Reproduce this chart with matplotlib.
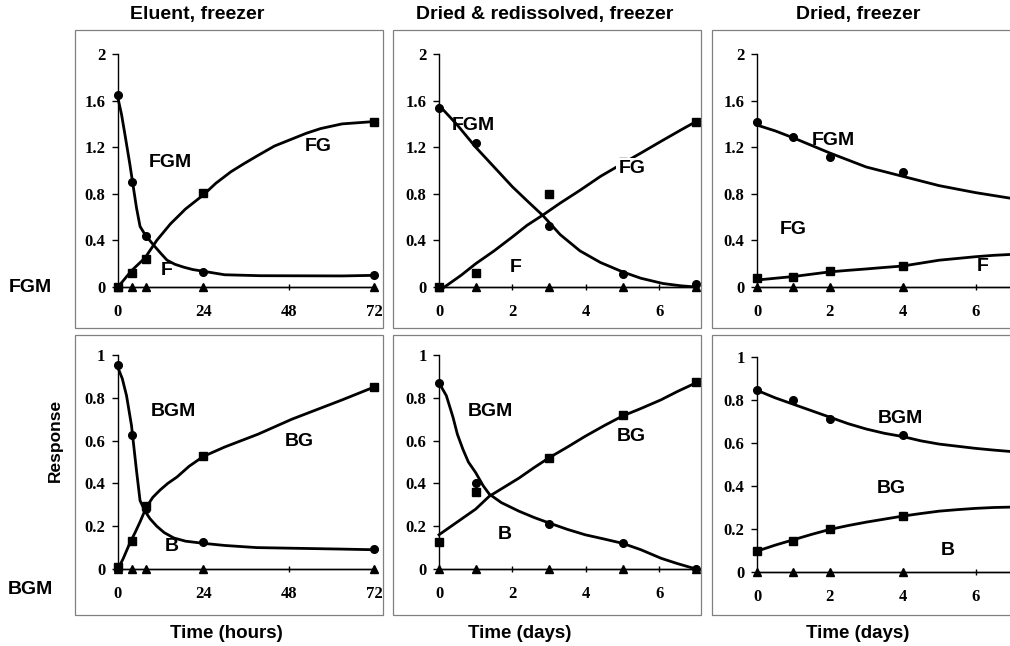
import matplotlib
matplotlib.use('Agg')
from matplotlib import pyplot as plt
from matplotlib.patches import Rectangle

# ---- data ----
# Eluent, freezer (hours)
t1 = [0, 4, 8, 24, 72]
fgm1 = [1.65, 0.90, 0.44, 0.13, 0.10]
fg1 = [0.0, 0.12, 0.24, 0.81, 1.42]
f1 = [0, 0, 0, 0, 0]
bgm1 = [0.955, 0.627, 0.28, 0.126, 0.093]
bg1 = [0.01, 0.13, 0.295, 0.53, 0.85]
b1 = [0, 0, 0, 0, 0]

fgm1_fit_t = [0, 1, 2, 3.3, 4.1, 5.2, 6.2, 7.6, 10, 12, 13.8, 16, 18.5, 21, 24, 30, 40, 63, 72]
fgm1_fit = [1.62, 1.48, 1.30, 1.06, 0.90, 0.68, 0.52, 0.45, 0.36, 0.29, 0.23, 0.195, 0.17, 0.15, 0.135, 0.105, 0.097, 0.095, 0.10]
fg1_fit_t = [0, 3.8, 7.6, 10.9, 14.7, 19, 24, 27.5, 31.8, 35.5, 39.4, 44, 48.9, 53, 57, 63, 72]
fg1_fit = [0.0, 0.14, 0.25, 0.40, 0.54, 0.67, 0.79, 0.89, 0.99, 1.06, 1.13, 1.21, 1.27, 1.32, 1.36, 1.40, 1.42]
bgm1_fit_t = [0, 1.2, 2.4, 3.8, 5.2, 6.2, 7.6, 9, 10.9, 13, 15.7, 19, 24, 30, 39, 63, 72]
bgm1_fit = [0.94, 0.89, 0.81, 0.67, 0.46, 0.32, 0.27, 0.235, 0.20, 0.17, 0.145, 0.13, 0.12, 0.11, 0.10, 0.093, 0.09]
bg1_fit_t = [0, 1.5, 3.3, 4.8, 6.2, 8, 9.8, 11.9, 14, 16.6, 20, 24, 30, 39.4, 48.9, 63, 72]
bg1_fit = [0.0, 0.05, 0.12, 0.17, 0.22, 0.29, 0.335, 0.37, 0.40, 0.43, 0.48, 0.526, 0.57, 0.63, 0.70, 0.79, 0.85]

# Dried & redissolved, freezer (days)
t2 = [0, 1, 3, 5, 7]
fgm2 = [1.54, 1.24, 0.52, 0.115, 0.03]
fg2 = [0.0, 0.12, 0.80, 1.07, 1.42]
f2 = [0, 0, 0, 0, 0]
bgm2 = [0.87, 0.40, 0.21, 0.12, 0.0]
bg2 = [0.125, 0.36, 0.52, 0.72, 0.875]
b2 = [0, 0, 0, 0, 0]

fgm2_fit_t = [0, 0.5, 1, 1.5, 2, 2.4, 2.84, 3.3, 3.84, 4.4, 5, 5.5, 6.1, 6.6, 7]
fgm2_fit = [1.56, 1.39, 1.20, 1.03, 0.86, 0.74, 0.61, 0.45, 0.31, 0.21, 0.13, 0.075, 0.03, 0.01, 0.0]
fg2_fit_t = [0.15, 0.6, 1, 1.5, 2, 2.4, 2.84, 3.3, 3.84, 4.4, 5, 5.5, 6.1, 6.6, 7]
fg2_fit = [0.0, 0.10, 0.20, 0.31, 0.43, 0.53, 0.62, 0.72, 0.83, 0.95, 1.06, 1.15, 1.26, 1.35, 1.42]
bgm2_fit_t = [0, 0.2, 0.38, 0.5, 0.65, 0.8, 1, 1.2, 1.37, 1.7, 2.18, 2.6, 3, 3.5, 3.98, 4.5, 5, 5.5, 6.05, 6.5, 7]
bgm2_fit = [0.87, 0.81, 0.71, 0.63, 0.56, 0.50, 0.45, 0.39, 0.35, 0.31, 0.27, 0.24, 0.215, 0.185, 0.16, 0.14, 0.12, 0.09, 0.05, 0.025, 0.0]
bg2_fit_t = [0, 0.5, 1, 1.37, 1.8, 2.18, 2.6, 3, 3.5, 3.98, 4.5, 5, 5.5, 6.04, 6.5, 7]
bg2_fit = [0.16, 0.22, 0.28, 0.34, 0.385, 0.425, 0.475, 0.52, 0.57, 0.62, 0.67, 0.715, 0.75, 0.79, 0.83, 0.87]

# Dried, freezer (days)
t3 = [0, 1, 2, 4]
fgm3 = [1.42, 1.29, 1.12, 0.99]
fg3 = [0.08, 0.09, 0.14, 0.18]
f3 = [0, 0, 0, 0]
bgm3 = [0.845, 0.80, 0.71, 0.635]
bg3 = [0.10, 0.143, 0.202, 0.26]
b3 = [0, 0, 0, 0]

fit3_t = [0, 0.5, 1, 1.5, 2, 2.5, 3, 3.5, 4, 4.5, 5, 5.5, 6, 6.5, 7]
fgm3_fit = [1.39, 1.34, 1.28, 1.215, 1.15, 1.09, 1.03, 0.99, 0.95, 0.91, 0.87, 0.84, 0.81, 0.785, 0.76]
fg3_fit = [0.06, 0.075, 0.09, 0.11, 0.13, 0.143, 0.155, 0.168, 0.18, 0.205, 0.23, 0.245, 0.26, 0.272, 0.28]
bgm3_fit = [0.845, 0.81, 0.78, 0.75, 0.72, 0.69, 0.665, 0.645, 0.63, 0.61, 0.595, 0.585, 0.575, 0.567, 0.56]
bg3_fit = [0.097, 0.125, 0.15, 0.175, 0.198, 0.216, 0.232, 0.246, 0.26, 0.272, 0.283, 0.29, 0.296, 0.3, 0.302]

titles = ['Eluent, freezer', 'Dried & redissolved, freezer', 'Dried, freezer']
xlabels = ['Time (hours)', 'Time (days)', 'Time (days)']

top_yticks = [0, 0.4, 0.8, 1.2, 1.6, 2]
top_ylabels = ['0', '0.4', '0.8', '1.2', '1.6', '2']
bot_yticks = [0, 0.2, 0.4, 0.6, 0.8, 1]
bot_ylabels = ['0', '0.2', '0.4', '0.6', '0.8', '1']
hour_ticks = [0, 24, 48, 72]
day_ticks = [0, 2, 4, 6]

W, H = 1010, 646
fig = plt.figure(figsize=(W / 100, H / 100), dpi=100)

sans = 'Liberation Sans'
serif = 'Liberation Serif'


def px_axes(x0, x1, ytop, ybot):
    return fig.add_axes([x0 / W, 1 - ybot / H, (x1 - x0) / W, (ybot - ytop) / H])


def frame(x0, x1, y0, y1):
    fig.add_artist(Rectangle((x0 / W, 1 - y1 / H), (x1 - x0) / W, (y1 - y0) / H,
                             transform=fig.transFigure, fill=False, ec='0.5', lw=0.9))


def panel(ax, xmax, xticks, yticks, ylabels, ymax):
    ax.set_xlim(0, xmax)
    ax.set_ylim(0, ymax)
    for s in ['top', 'right']:
        ax.spines[s].set_visible(False)
    for s in ['left', 'bottom']:
        ax.spines[s].set_linewidth(1.0)
    ax.set_xticks(xticks)
    ax.set_xticklabels([str(x) for x in xticks])
    ax.set_yticks(yticks)
    ax.set_yticklabels(ylabels)
    ax.tick_params(axis='y', direction='out', length=4, width=1, pad=5)
    ax.tick_params(axis='x', direction='inout', length=5, width=1, pad=10)
    for lab in ax.get_xticklabels() + ax.get_yticklabels():
        lab.set_fontfamily(serif)
        lab.set_fontweight('bold')
        lab.set_fontsize(12)
    ax.patch.set_alpha(0)


def series(ax, t, y, marker, fit_t=None, fit=None, ms=5.5):
    if fit_t is None:
        ax.plot(t, y, color='black', lw=1.0, marker=marker, ms=ms, clip_on=False, zorder=3)
    else:
        ax.plot(fit_t, fit, color='black', lw=2.0, clip_on=False, zorder=2)
        ax.plot(t, y, ls='none', color='black', marker=marker, ms=ms, clip_on=False, zorder=3)


def label(ax, x, y, s, box=False):
    kw = {}
    if box:
        kw['bbox'] = dict(facecolor='white', edgecolor='none', pad=1.5)
    ax.text(x, y, s, fontfamily=sans, fontweight='bold', fontsize=14,
            ha='center', va='center', zorder=4, **kw)


# frames
frame(75, 383, 30, 328)
frame(393, 701, 30, 328)
frame(712, 1020, 30, 328)
frame(75, 383, 335, 615)
frame(393, 701, 335, 615)
frame(712, 1020, 335, 615)

# top row
ax1 = px_axes(118, 374, 54, 287)
panel(ax1, 72, hour_ticks, top_yticks, top_ylabels, 2)
series(ax1, t1, fgm1, 'o', fgm1_fit_t, fgm1_fit)
series(ax1, t1, fg1, 's', fg1_fit_t, fg1_fit)
series(ax1, t1, f1, '^')
label(ax1, 14.7, 1.07, 'FGM')
label(ax1, 56.4, 1.21, 'FG')
label(ax1, 13.8, 0.14, 'F')

ax2 = px_axes(439, 696, 54, 287)
panel(ax2, 7, day_ticks, top_yticks, top_ylabels, 2)
series(ax2, t2, fgm2, 'o', fgm2_fit_t, fgm2_fit)
series(ax2, t2, fg2, 's', fg2_fit_t, fg2_fit)
series(ax2, t2, f2, '^')
label(ax2, 0.93, 1.39, 'FGM')
label(ax2, 5.25, 1.02, 'FG', box=True)
label(ax2, 2.1, 0.17, 'F')

ax3 = px_axes(757, 1012, 54, 287)
panel(ax3, 7, day_ticks, top_yticks, top_ylabels, 2)
series(ax3, t3, fgm3, 'o', fit3_t, fgm3_fit)
series(ax3, t3, fg3, 's', fit3_t, fg3_fit)
ax3.plot(fit3_t, [0] * len(fit3_t), color='black', lw=1.0, zorder=2, clip_on=False)
ax3.plot(t3, f3, ls='none', color='black', marker='^', ms=5.5, clip_on=False, zorder=3)
label(ax3, 2.1, 1.26, 'FGM')
label(ax3, 1.0, 0.49, 'FG')
label(ax3, 6.2, 0.18, 'F')

# bottom row
ax4 = px_axes(118, 374, 355, 569)
panel(ax4, 72, hour_ticks, bot_yticks, bot_ylabels, 1)
series(ax4, t1, bgm1, 'o', bgm1_fit_t, bgm1_fit)
series(ax4, t1, bg1, 's', bg1_fit_t, bg1_fit)
series(ax4, t1, b1, '^')
label(ax4, 15.7, 0.735, 'BGM')
label(ax4, 51, 0.595, 'BG')
label(ax4, 15.2, 0.105, 'B')

ax5 = px_axes(439, 696, 355, 569)
panel(ax5, 7, day_ticks, bot_yticks, bot_ylabels, 1)
series(ax5, t2, bgm2, 'o', bgm2_fit_t, bgm2_fit)
series(ax5, t2, bg2, 's', bg2_fit_t, bg2_fit)
series(ax5, t2, b2, '^')
label(ax5, 1.41, 0.735, 'BGM')
label(ax5, 5.24, 0.62, 'BG')
label(ax5, 1.8, 0.16, 'B')

ax6 = px_axes(757, 1012, 357, 572)
panel(ax6, 7, day_ticks, bot_yticks, bot_ylabels, 1)
series(ax6, t3, bgm3, 'o', fit3_t, bgm3_fit)
series(ax6, t3, bg3, 's', fit3_t, bg3_fit)
ax6.plot(fit3_t, [0] * len(fit3_t), color='black', lw=1.0, zorder=2, clip_on=False)
ax6.plot(t3, b3, ls='none', color='black', marker='^', ms=5.5, clip_on=False, zorder=3)
label(ax6, 3.94, 0.715, 'BGM')
label(ax6, 3.69, 0.388, 'BG')
label(ax6, 5.23, 0.10, 'B')

# titles and outer labels
for xc, s in zip([197, 545, 858], titles):
    fig.text(xc / W, 1 - 15 / H, s, fontfamily=sans, fontweight='bold', fontsize=14,
             ha='center', va='center')
for xc, s in zip([226, 520, 858], xlabels):
    fig.text(xc / W, 1 - 633 / H, s, fontfamily=sans, fontweight='bold', fontsize=13.5,
             ha='center', va='center')
fig.text(30 / W, 1 - 288 / H, 'FGM', fontfamily=sans, fontweight='bold', fontsize=14,
         ha='center', va='center')
fig.text(30 / W, 1 - 590 / H, 'BGM', fontfamily=sans, fontweight='bold', fontsize=14,
         ha='center', va='center')
fig.text(55 / W, 1 - 440 / H, 'Response', fontfamily=sans, fontweight='bold', fontsize=12.5,
         ha='center', va='center', rotation=90)

fig.savefig('out.png', dpi=100)
